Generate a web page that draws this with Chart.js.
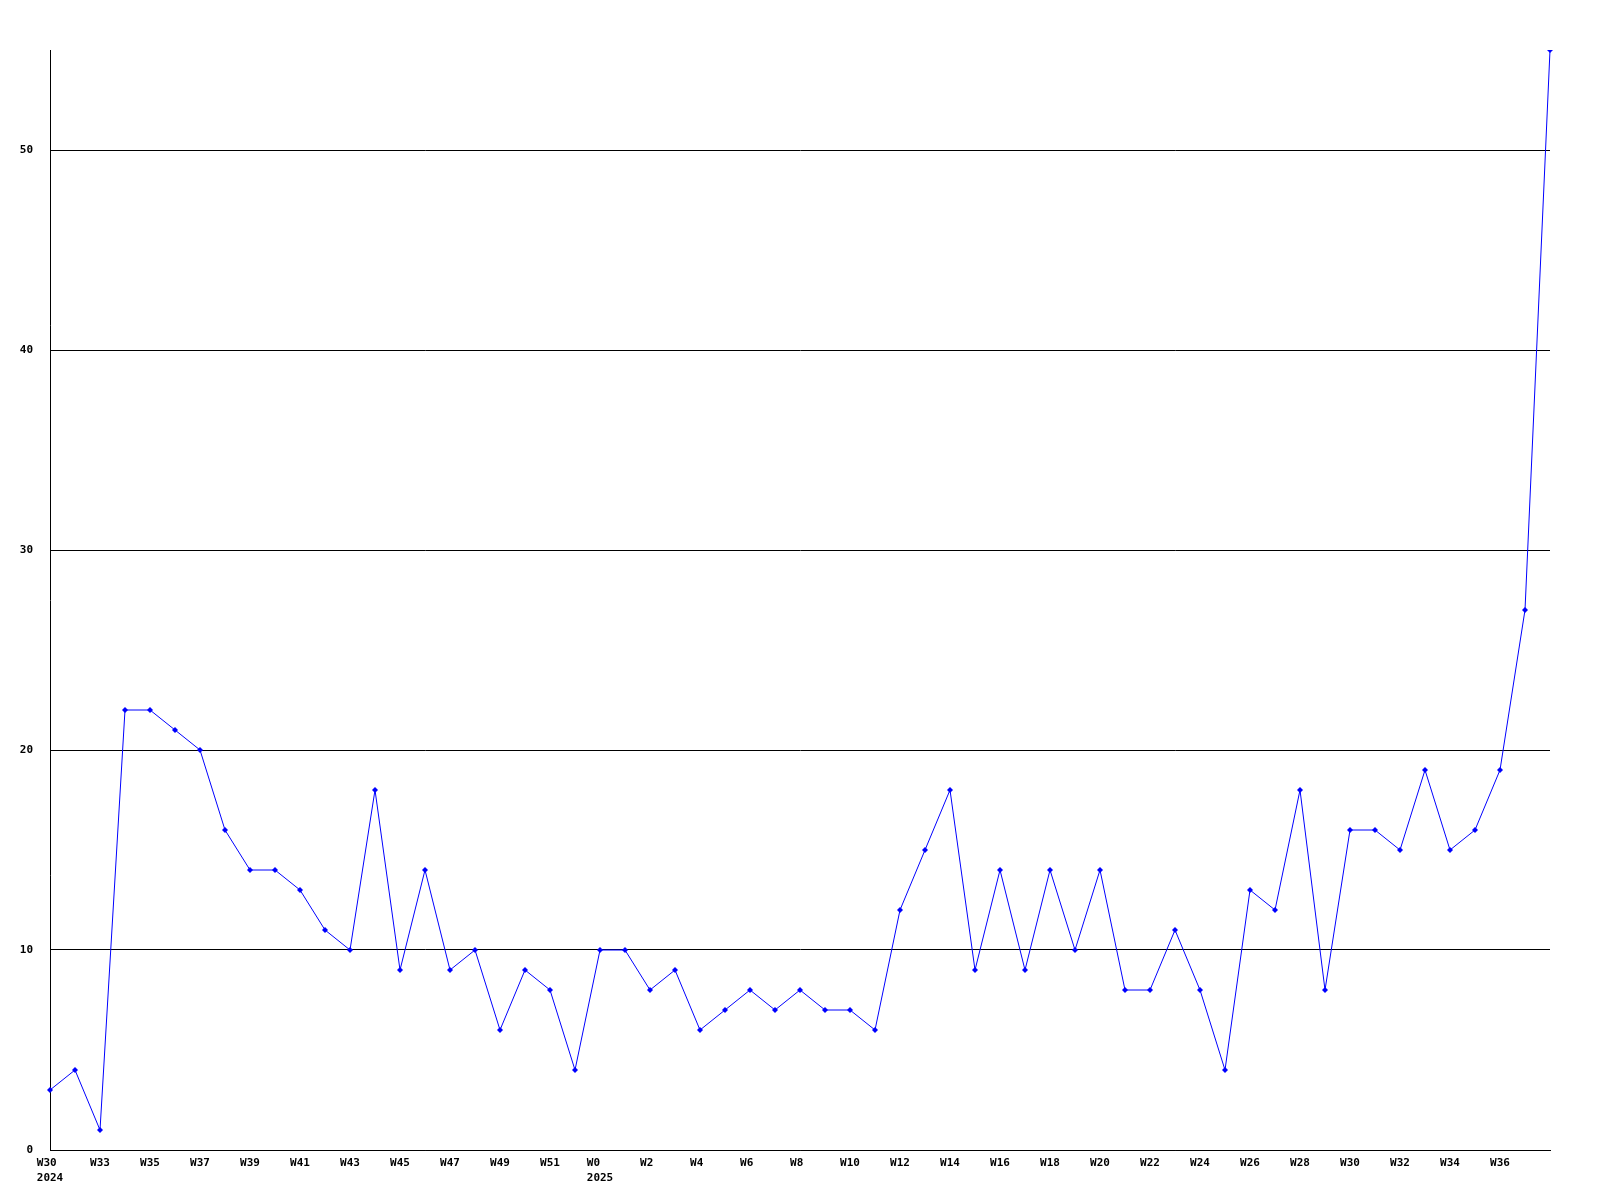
<!DOCTYPE html>
<html>
<head>
<meta charset="utf-8">
<script src="https://cdn.jsdelivr.net/npm/chart.js@4/dist/chart.umd.min.js"></script>
<style>
    html, body { margin: 0; padding: 0; background: #fff; }
    canvas { display: block; }
</style>
</head>
<body>
<canvas id="weekChart" width="1600" height="1200"></canvas>
<script>
const weeks = [
    "W30", "W32", "W33", "W34", "W35", "W36", "W37", "W38", "W39", "W40",
    "W41", "W42", "W43", "W44", "W45", "W46", "W47", "W48", "W49", "W50",
    "W51", "W52", "W0", "W1", "W2", "W3", "W4", "W5", "W6", "W7",
    "W8", "W9", "W10", "W11", "W12", "W13", "W14", "W15", "W16", "W17",
    "W18", "W19", "W20", "W21", "W22", "W23", "W24", "W25", "W26", "W27",
    "W28", "W29", "W30", "W31", "W32", "W33", "W34", "W35", "W36", "W37",
    "W38"
];
const counts = [
    3, 4, 1, 22, 22, 21, 20, 16, 14, 14,
    13, 11, 10, 18, 9, 14, 9, 10, 6, 9,
    8, 4, 10, 10, 8, 9, 6, 7, 8, 7,
    8, 7, 7, 6, 12, 15, 18, 9, 14, 9,
    14, 10, 14, 8, 8, 11, 8, 4, 13, 12,
    18, 8, 16, 16, 15, 19, 15, 16, 19, 27,
    55
];
const yearTickIndex = [0, 22];
const yearTickText = ["2024", "2025"];
const yTicks = [0, 10, 20, 30, 40, 50];

const tickFont = { family: "'DejaVu Sans Mono', monospace", size: 11, weight: "bold", lineHeight: 1.4 };

const ctx = document.getElementById("weekChart").getContext("2d");

new Chart(ctx, {
    type: "line",
    data: {
        labels: weeks,
        datasets: [{
            data: counts,
            borderColor: "#0000ff",
            backgroundColor: "#0000ff",
            borderWidth: 1,
            tension: 0,
            pointStyle: "rectRot",
            pointRadius: 3,
            pointBorderWidth: 0,
            fill: false
        }]
    },
    options: {
        responsive: false,
        animation: false,
        layout: { padding: { top: 50, right: 50, left: 0, bottom: 0 } },
        plugins: {
            legend: { display: false },
            tooltip: { enabled: false }
        },
        scales: {
            x: {
                offset: false,
                grid: { display: false, drawTicks: false },
                border: { display: true, color: "#000", width: 1 },
                ticks: {
                    autoSkip: false,
                    maxRotation: 0,
                    minRotation: 0,
                    padding: 5,
                    color: "#000",
                    font: tickFont,
                    callback: function (value, index) {
                        if (index % 2 !== 0 || index === weeks.length - 1) return "";
                        const w = weeks[index].padEnd(3, " ");
                        const y = yearTickIndex.indexOf(index);
                        if (y >= 0) return [w.padEnd(4, " "), yearTickText[y]];
                        return w;
                    }
                },
                afterFit: function (scale) { scale.height = 50; }
            },
            y: {
                min: 0,
                max: 55,
                grid: { color: "#000", lineWidth: 1, drawTicks: false },
                border: { display: true, color: "#000", width: 1 },
                ticks: {
                    stepSize: 10,
                    padding: 17,
                    color: "#000",
                    font: tickFont
                },
                afterBuildTicks: function (scale) {
                    scale.ticks = yTicks.map(v => ({ value: v }));
                },
                afterFit: function (scale) { scale.width = 50; }
            }
        }
    }
});
</script>
</body>
</html>
